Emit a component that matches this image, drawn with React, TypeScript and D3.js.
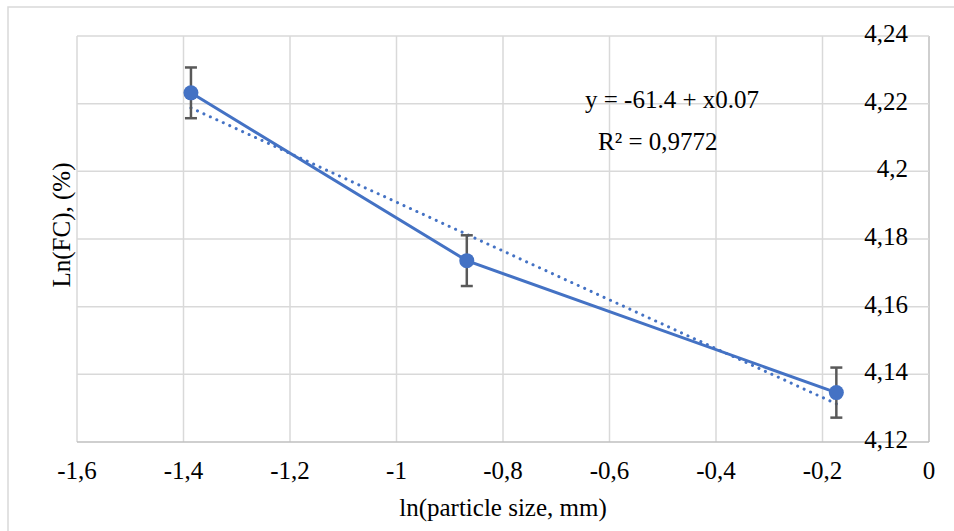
import React from 'react';
import * as d3 from 'd3';

// ln(particle size, mm) and ln(FC) with error bars
const lnSize = [-1.386, -0.868, -0.174];
const lnFC = [4.2232, 4.1736, 4.1346];
const errFC = [0.0075, 0.0075, 0.0074];

const xTicks = [-1.6, -1.4, -1.2, -1, -0.8, -0.6, -0.4, -0.2, 0];
const yTicks = [4.12, 4.14, 4.16, 4.18, 4.2, 4.22, 4.24];

const equationText = 'y = -61.4 + x0.07';
const r2Text = 'R² = 0,9772';
const xTitle = 'ln(particle size, mm)';
const yTitle = 'Ln(FC), (%)';

const App = () => {
  const width = 954;
  const height = 531;
  const blue = '#4472C4';
  const grid = '#d9d9d9';
  const font = '"Liberation Serif", "Times New Roman", serif';
  const fs = 25;
  const plot = { left: 77, right: 929, top: 36, bottom: 442 };

  const locale = d3.formatLocale({
    decimal: ',',
    thousands: ' ',
    grouping: [3],
    currency: ['', ''],
    minus: '-',
  });
  const fmt = locale.format('~g');

  const xScale = d3
    .scaleLinear()
    .domain([-1.6, 0])
    .range([plot.left, plot.right]);
  const yScale = d3
    .scaleLinear()
    .domain([4.12, 4.24])
    .range([plot.bottom, plot.top]);

  const points = lnSize.map((x, i) => ({ x, y: lnFC[i], e: errFC[i] }));

  const line = d3
    .line<{ x: number; y: number }>()
    .x(d => xScale(d.x))
    .y(d => yScale(d.y));

  // least squares fit for the dotted trend line
  const mx = d3.mean(lnSize) as number;
  const my = d3.mean(lnFC) as number;
  const sxy = d3.sum(points, d => (d.x - mx) * (d.y - my));
  const sxx = d3.sum(points, d => (d.x - mx) * (d.x - mx));
  const slope = sxy / sxx;
  const icpt = my - slope * mx;
  const xExt = d3.extent(lnSize) as [number, number];
  const trend = xExt.map(x => ({ x, y: icpt + slope * x }));

  return (
    <svg
      width={width}
      height={height}
      style={{ position: 'absolute', left: 0, top: 0, background: '#fff' }}
      fontFamily={font}
    >
      <rect x={8} y={7} width={960} height={540} fill='#fff' stroke={grid} strokeWidth={1.5} />
      {xTicks.map(t => (
        <line
          key={`gx-${t}`}
          x1={xScale(t)}
          x2={xScale(t)}
          y1={plot.top}
          y2={plot.bottom}
          stroke={t === 0 ? '#bfbfbf' : grid}
          strokeWidth={1.5}
        />
      ))}
      {yTicks.map(t => (
        <line
          key={`gy-${t}`}
          x1={plot.left}
          x2={plot.right}
          y1={yScale(t)}
          y2={yScale(t)}
          stroke={t === 4.12 ? '#bfbfbf' : grid}
          strokeWidth={1.5}
        />
      ))}
      {xTicks.map(t => (
        <text key={`tx-${t}`} x={xScale(t)} y={479} fontSize={fs} textAnchor='middle' fill='#000'>
          {fmt(t)}
        </text>
      ))}
      {yTicks.map(t => (
        <text key={`ty-${t}`} x={908} y={yScale(t) + 6} fontSize={fs} textAnchor='end' fill='#000'>
          {fmt(t)}
        </text>
      ))}
      <text x={503} y={516} fontSize={fs} textAnchor='middle'>
        {xTitle}
      </text>
      <text
        transform={`translate(70, 225) rotate(-90)`}
        fontSize={fs}
        textAnchor='middle'
      >
        {yTitle}
      </text>

      <path d={line(points) as string} fill='none' stroke={blue} strokeWidth={3} />
      <path
        d={line(trend) as string}
        fill='none'
        stroke={blue}
        strokeWidth={3}
        strokeDasharray='0.1 7'
        strokeLinecap='round'
      />
      {points.map((d, i) => (
        <g key={`err-${i}`} stroke='#595959' strokeWidth={2.5}>
          <line x1={xScale(d.x)} x2={xScale(d.x)} y1={yScale(d.y - d.e)} y2={yScale(d.y + d.e)} />
          <line x1={xScale(d.x) - 6} x2={xScale(d.x) + 6} y1={yScale(d.y + d.e)} y2={yScale(d.y + d.e)} />
          <line x1={xScale(d.x) - 6} x2={xScale(d.x) + 6} y1={yScale(d.y - d.e)} y2={yScale(d.y - d.e)} />
        </g>
      ))}
      {points.map((d, i) => (
        <circle key={`pt-${i}`} cx={xScale(d.x)} cy={yScale(d.y)} r={7.5} fill={blue} />
      ))}

      <text x={585} y={108} fontSize={fs}>
        {equationText}
      </text>
      <text x={598} y={150} fontSize={fs}>
        {r2Text}
      </text>
    </svg>
  );
};

export default App;
